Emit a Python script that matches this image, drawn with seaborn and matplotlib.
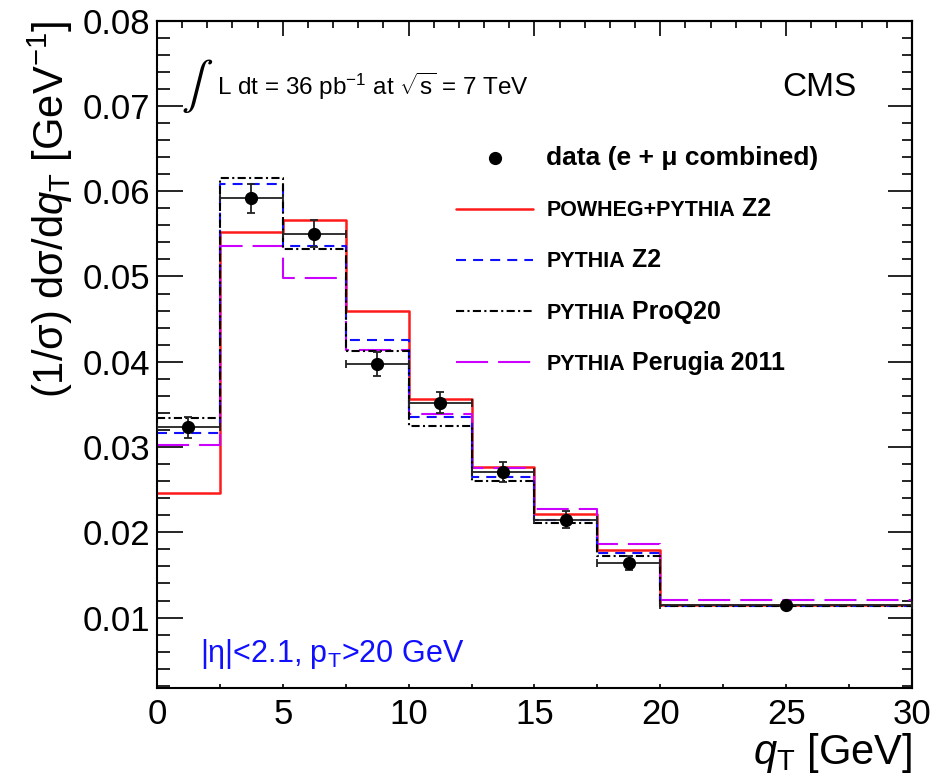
import numpy as np
import pandas as pd
import matplotlib
matplotlib.use("Agg")
import matplotlib.pyplot as plt
import seaborn as sns
from matplotlib.ticker import MultipleLocator, FormatStrFormatter

# ---------------- data ----------------
bin_edges = [0, 2.5, 5, 7.5, 10, 12.5, 15, 17.5, 20, 30]
data_vals = [0.0323, 0.0592, 0.0550, 0.0397, 0.0352, 0.0271, 0.0215, 0.0164, 0.0115]
data_errs = [0.00125, 0.0017, 0.0016, 0.0014, 0.0012, 0.0012, 0.0010, 0.0008, 0.0002]
powheg_z2 = [0.0246, 0.0552, 0.0566, 0.0459, 0.0356, 0.0277, 0.0221, 0.0179, 0.0115]
pythia_z2 = [0.0317, 0.0609, 0.0536, 0.0425, 0.0335, 0.0265, 0.0215, 0.0176, 0.0114]
pythia_proq20 = [0.0334, 0.0615, 0.0532, 0.0413, 0.0325, 0.0260, 0.0211, 0.0172, 0.0114]
pythia_perugia = [0.0302, 0.0536, 0.0498, 0.0414, 0.0339, 0.0275, 0.0227, 0.0186, 0.0121]

edges = np.array(bin_edges)
centers = 0.5 * (edges[:-1] + edges[1:])
halfw = 0.5 * (edges[1:] - edges[:-1])

# ---------------- style ----------------
sns.set_theme(style="ticks")
plt.rcParams["font.family"] = ["Liberation Sans", "DejaVu Sans"]
plt.rcParams["mathtext.fontset"] = "custom"
plt.rcParams["mathtext.rm"] = "Liberation Sans"
plt.rcParams["mathtext.it"] = "Liberation Sans:italic"
plt.rcParams["mathtext.bf"] = "Liberation Sans:bold"
plt.rcParams["axes.linewidth"] = 1.5
for k in ["text.color", "axes.labelcolor", "xtick.color", "ytick.color",
          "axes.edgecolor"]:
    plt.rcParams[k] = "black"

fig = plt.figure(figsize=(9.3, 7.83), dpi=100)
ax = fig.add_axes([0.1688, 0.1209, 0.8118, 0.8527])

lw = 1.5
models = [
    ("POWHEG+PYTHIA", " Z2", powheg_z2, "#ff1a1a", "-", 1.8),
    ("PYTHIA", " Z2", pythia_z2, "#1010ff", (0, (4.8, 3.4)), lw),
    ("PYTHIA", " ProQ20", pythia_proq20, "black", (0, (3.9, 1.6, 1.0, 1.6)), lw),
    ("PYTHIA", " Perugia 2011", pythia_perugia, "#cc00ff", (0, (15.4, 4.8)), lw),
]

order = [0, 3, 1, 2]
for i in order:
    small, big, vals, col, ls, w = models[i]
    df = pd.DataFrame({"qT": centers, "w": vals})
    sns.histplot(data=df, x="qT", weights="w", bins=list(bin_edges), element="step",
                 fill=False, color=col, linestyle=ls, linewidth=w, ax=ax,
                 label=f"m{i}")

eb = ax.errorbar(centers, data_vals, xerr=halfw, yerr=data_errs, fmt="o",
                 color="black", ecolor="#222222", ms=8.5, elinewidth=1.3,
                 capsize=3, capthick=1.3, label="data", zorder=5)

ax.set_xlim(0, 30)
ax.set_ylim(0.0017, 0.08)

# ticks
ax.xaxis.set_major_locator(MultipleLocator(5))
ax.xaxis.set_minor_locator(MultipleLocator(2.5))
ax.yaxis.set_major_locator(MultipleLocator(0.01))
ax.yaxis.set_minor_locator(MultipleLocator(0.002))
ax.yaxis.set_major_formatter(FormatStrFormatter("%.2f"))
ax.tick_params(axis="x", which="both", direction="in", length=3, width=1.2,
               labelsize=25, pad=7, top=False, colors="black")
ax.tick_params(axis="y", which="major", direction="in", length=19, width=1.2,
               labelsize=25, pad=5, right=False, colors="black")
ax.tick_params(axis="y", which="minor", direction="in", length=9.5, width=1.2,
               right=False, colors="black")

secx = ax.secondary_xaxis("top")
secx.xaxis.set_major_locator(MultipleLocator(5))
secx.xaxis.set_minor_locator(MultipleLocator(1))
secx.tick_params(which="major", direction="in", length=11, width=1.2, labeltop=False)
secx.tick_params(which="minor", direction="in", length=5, width=1.2)
secy = ax.secondary_yaxis("right")
secy.yaxis.set_major_locator(MultipleLocator(0.01))
secy.yaxis.set_minor_locator(MultipleLocator(0.002))
secy.tick_params(which="major", direction="in", length=17, width=1.2, labelright=False)
secy.tick_params(which="minor", direction="in", length=7.5, width=1.2)
for s in ax.spines.values():
    s.set_color("black")

ax.set_xlabel(r"$q_{\rm T}$ [GeV]", fontsize=30, loc="right", labelpad=0)
ax.set_ylabel("(1/σ) dσ/d$q_{\\rm T}$ [GeV$^{-1}$]", fontsize=30, loc="top",
              labelpad=5)

# annotations
ax.text(0.032, 0.902, r"$\int$", transform=ax.transAxes, fontsize=34,
        math_fontfamily="stix", va="center", ha="left")
ax.text(0.08, 0.889, r"L dt = 36 pb$^{-1}$ at $\sqrt{\mathrm{s}}$ = 7 TeV",
        transform=ax.transAxes, fontsize=17.5, va="baseline", ha="left")
ax.text(0.927, 0.887, "CMS", transform=ax.transAxes, fontsize=24,
        va="baseline", ha="right")
ax.text(0.057, 0.0394, r"|η|<2.1, p$_{\rm T}$>20 GeV", transform=ax.transAxes,
        fontsize=22, color="#1010ff", va="baseline", ha="left")

# legend
handles, labels = ax.get_legend_handles_labels()
hmap = dict(zip(labels, handles))
leg_handles = [eb[0]] + [hmap[f"m{i}"] for i in range(4)]
leg_labels = ["data (e + μ combined)"] + [m[0] for m in models]
leg = ax.legend(leg_handles, leg_labels, loc="upper left",
                bbox_to_anchor=(0.396, 0.812), frameon=False, borderpad=0,
                borderaxespad=0, handlelength=3.6, handletextpad=0.6,
                labelspacing=1.4, prop={"weight": "bold", "size": 15.5})
texts = leg.get_texts()
texts[0].set_fontsize(19)
fig.canvas.draw()
for t, m in zip(texts[1:], models):
    ax.annotate(m[1], xy=(1, 0), xycoords=t, xytext=(0, 0),
                textcoords="offset points", ha="left", va="bottom",
                fontsize=18, fontweight="bold", zorder=10)

fig.savefig("out.png", dpi=100)
